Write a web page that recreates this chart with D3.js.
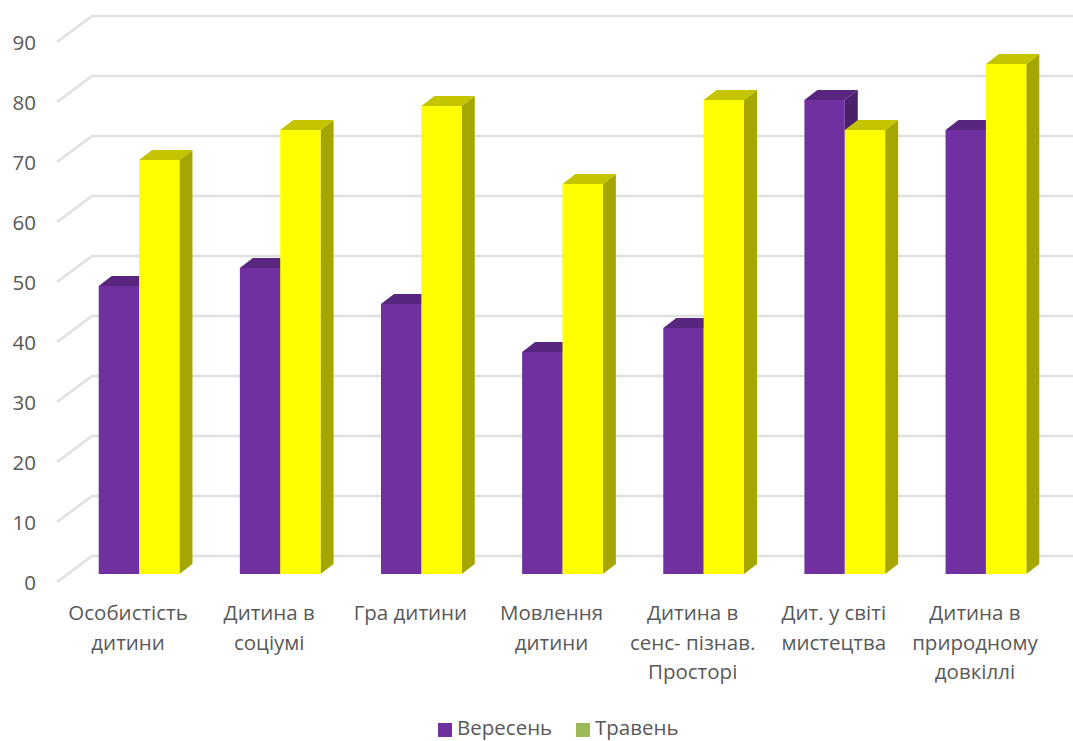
<!DOCTYPE html>
<html><head><meta charset="utf-8">
<script src="https://cdn.jsdelivr.net/npm/d3@7"></script>
<style>html,body{margin:0;padding:0;background:#fff}svg{display:block}text{font-family:"Open Sans",sans-serif;fill:#595959}</style>
</head><body><svg id="c" width="1073" height="741"></svg>
<script>
const categories=["Особистість дитини","Дитина в соціумі","Гра дитини","Мовлення дитини","Дитина в сенс- пізнав. Просторі","Дит. у світі мистецтва","Дитина в природному довкіллі"];
const categoryLines=[["Особистість","дитини"],["Дитина в","соціумі"],["Гра дитини"],["Мовлення","дитини"],["Дитина в","сенс- пізнав.","Просторі"],["Дит. у світі","мистецтва"],["Дитина в","природному","довкіллі"]];
const seriesNames=["Вересень","Травень"];
const september=[48,51,45,37,41,79,74];
const may=[69,74,78,65,79,74,85];
const yTicks=[0,10,20,30,40,50,60,70,80,90];

const W=1073,H=741;
const svg=d3.select("#c");
const y=d3.scaleLinear().domain([0,90]).range([574,34]);
const x=d3.scaleBand().domain(categories).range([68.5,1056.5]).paddingInner(0.428).paddingOuter(0.214);
const inner=d3.scaleBand().domain(seriesNames).range([0,x.bandwidth()]);
const floor={fx:57,fy:8,bx:92,by:-18}, depth={dx:13,dy:10};
const legendColor={"Вересень":"#7030A0","Травень":"#9BBB59"};
const faces={"Вересень":{front:"#7030A0",top:"#59267F",side:"#4B206B"},"Травень":{front:"#FFFF00",top:"#C4C400",side:"#A6A600"}};

const grid=svg.append("g");
grid.selectAll("polyline").data(yTicks).join("polyline")
 .attr("points",d=>`${floor.fx},${y(d)+floor.fy} ${floor.bx},${y(d)+floor.by} ${W},${y(d)+floor.by}`)
 .attr("fill","none").attr("stroke","#e0e0e0").attr("stroke-width",2.5);

const yAxis=d3.axisLeft(y).tickValues(yTicks).tickSize(0).tickPadding(0);
const ya=svg.append("g").attr("transform","translate(36,9)").call(yAxis);
ya.select(".domain").remove();
ya.selectAll("text").style("font-size","20.5px").attr("fill","#595959");

const rows=[];
categories.forEach((c,i)=>{rows.push({c,s:seriesNames[0],v:september[i]});rows.push({c,s:seriesNames[1],v:may[i]});});
const g=svg.append("g");
const bar=g.selectAll("g").data(rows).join("g");
const bx=d=>x(d.c)+inner(d.s), bw=inner.bandwidth();
bar.append("path").attr("fill",d=>faces[d.s].side).attr("d",d=>{const X=bx(d)+bw,T=y(d.v),B=y(0);
  return `M${X},${T}L${X+depth.dx},${T-depth.dy}L${X+depth.dx},${B-depth.dy}L${X},${B}Z`;});
bar.append("path").attr("fill",d=>faces[d.s].top).attr("d",d=>{const X=bx(d),T=y(d.v);
  return `M${X},${T}L${X+depth.dx},${T-depth.dy}L${X+bw+depth.dx},${T-depth.dy}L${X+bw},${T}Z`;});
bar.append("rect").attr("fill",d=>faces[d.s].front).attr("x",bx).attr("width",bw).attr("y",d=>y(d.v)).attr("height",d=>y(0)-y(d.v));

const lab=svg.append("g").selectAll("text").data(categories).join("text")
 .attr("text-anchor","middle").style("font-size","20.5px")
 .attr("transform",d=>`translate(${x(d)+x.bandwidth()/2-11},0)`);
lab.selectAll("tspan").data((d,i)=>categoryLines[i]).join("tspan")
 .attr("x",0).attr("y",(d,i)=>620+i*29.5).text(d=>d);

const lx={"Вересень":438,"Травень":576};
const leg=svg.append("g").selectAll("g").data(seriesNames).join("g").attr("transform",d=>`translate(${lx[d]},723)`);
leg.append("rect").attr("width",14).attr("height",14).attr("fill",d=>legendColor[d]);
leg.append("text").attr("x",19).attr("y",11.8).style("font-size","20.5px").text(d=>d);
</script></body></html>
